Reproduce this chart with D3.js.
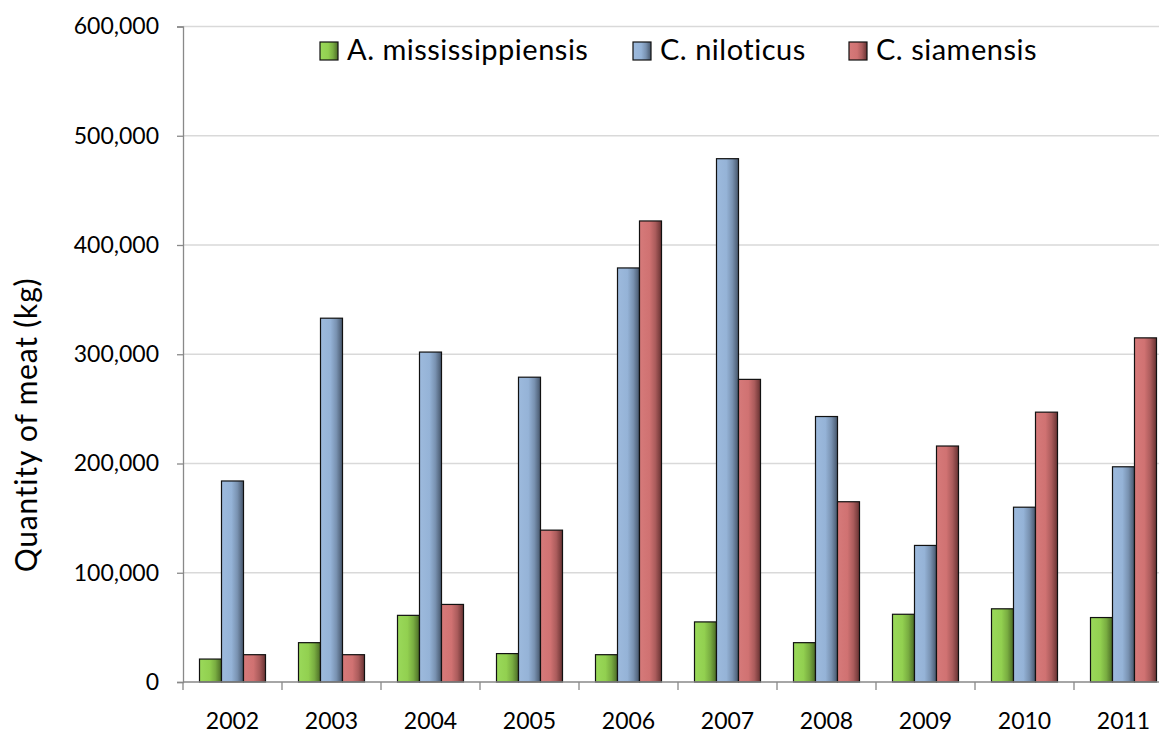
<!DOCTYPE html>
<html>
<head>
<meta charset="utf-8">
<script src="https://cdn.jsdelivr.net/npm/d3@7"></script>
<style>
  body { margin: 0; background: #fff; }
  svg { display: block; font-family: Lato, "Open Sans", sans-serif; }
</style>
</head>
<body>
<div id="chart"></div>
<script>
const years = ["2002", "2003", "2004", "2005", "2006", "2007", "2008", "2009", "2010", "2011"];
const seriesNames = ["A. mississippiensis", "C. niloticus", "C. siamensis"];
const mississippiensis = [21000, 36000, 61000, 26000, 25000, 55000, 36000, 62000, 67000, 59000];
const niloticus = [184000, 333000, 302000, 279000, 379000, 479000, 243000, 125000, 160000, 197000];
const siamensis = [25000, 25000, 71000, 139000, 422000, 277000, 165000, 216000, 247000, 315000];
const yTicks = [0, 100000, 200000, 300000, 400000, 500000, 600000];

const width = 1159, height = 734;
const plotLeft = 183, plotTop = 26.5, plotBottom = 682;
const band = 99;

// base colour + dark edge for each series
const palette = [
  { base: "#92d050", light: "#9ad95a", dark: "#4b6b26" },
  { base: "#95b3d7", light: "#9dbadd", dark: "#46566b" },
  { base: "#d07272", light: "#d67a7a", dark: "#673232" }
];
const values = [mississippiensis, niloticus, siamensis];

const svg = d3.select("#chart").append("svg")
  .attr("width", width)
  .attr("height", height);

const defs = svg.append("defs");
palette.forEach((c, i) => {
  const grad = defs.append("linearGradient")
    .attr("id", "grad" + i)
    .attr("x1", "0%").attr("x2", "100%")
    .attr("y1", "0%").attr("y2", "0%");
  grad.append("stop").attr("offset", "0%").attr("stop-color", c.light);
  grad.append("stop").attr("offset", "45%").attr("stop-color", c.base);
  grad.append("stop").attr("offset", "72%").attr("stop-color", d3.interpolateRgb(c.base, c.dark)(0.35));
  grad.append("stop").attr("offset", "100%").attr("stop-color", c.dark);
});

const x = d3.scaleBand()
  .domain(years)
  .range([plotLeft, plotLeft + band * years.length])
  .paddingInner(0)
  .paddingOuter(0);

// bars fill the middle two thirds of each category
const xInner = d3.scaleBand()
  .domain(d3.range(seriesNames.length))
  .range([band / 6, band * 5 / 6])
  .padding(0);

const y = d3.scaleLinear()
  .domain([0, 600000])
  .range([plotBottom, plotTop]);

// gridlines
svg.append("g")
  .selectAll("line")
  .data(yTicks.filter(d => d > 0))
  .join("line")
  .attr("x1", plotLeft).attr("x2", width)
  .attr("y1", d => y(d)).attr("y2", d => y(d))
  .attr("stroke", "#d9d9d9")
  .attr("stroke-width", 1.3);

// y axis
const yAxis = svg.append("g")
  .attr("transform", `translate(${plotLeft},0)`)
  .call(d3.axisLeft(y).tickValues(yTicks).tickSize(6).tickPadding(18)
    .tickFormat(d3.format(",")));
yAxis.select(".domain").attr("stroke", "#898989").attr("stroke-width", 1.3);
yAxis.selectAll(".tick line").attr("stroke", "#898989").attr("stroke-width", 1.3);
yAxis.selectAll("text")
  .attr("font-family", "Lato, 'Open Sans', sans-serif")
  .attr("font-size", 23)
  .attr("fill", "#000");

// bars
const groups = svg.append("g")
  .selectAll("g")
  .data(years)
  .join("g")
  .attr("transform", d => `translate(${x(d)},0)`);

groups.selectAll("rect")
  .data((d, i) => values.map((v, s) => ({ s, v: v[i] })))
  .join("rect")
  .attr("x", d => xInner(d.s))
  .attr("width", xInner.bandwidth())
  .attr("y", d => y(d.v))
  .attr("height", d => plotBottom - y(d.v))
  .attr("fill", d => `url(#grad${d.s})`)
  .attr("stroke", "#111")
  .attr("stroke-width", 1.2);

// x axis
const xAxis = svg.append("g")
  .attr("transform", `translate(0,${plotBottom})`)
  .call(d3.axisBottom(x).tickSize(0).tickPadding(31));
xAxis.select(".domain").remove();
xAxis.append("line")
  .attr("x1", plotLeft).attr("x2", width)
  .attr("stroke", "#898989").attr("stroke-width", 1.3);
xAxis.append("g")
  .selectAll("line")
  .data(years)
  .join("line")
  .attr("x1", d => x(d) + band).attr("x2", d => x(d) + band)
  .attr("y1", 0).attr("y2", 8)
  .attr("stroke", "#898989").attr("stroke-width", 1.3);
xAxis.append("line")
  .attr("x1", plotLeft).attr("x2", plotLeft)
  .attr("y1", 0).attr("y2", 8)
  .attr("stroke", "#898989").attr("stroke-width", 1.3);
xAxis.selectAll(".tick text")
  .attr("font-family", "Lato, 'Open Sans', sans-serif")
  .attr("font-size", 23)
  .attr("fill", "#000");

// y axis title
svg.append("text")
  .attr("transform", "translate(37,425) rotate(-90)")
  .attr("text-anchor", "middle")
  .attr("font-size", 30)
  .style("letter-spacing", "0.8px")
  .attr("fill", "#000")
  .text("Quantity of meat (kg)");

// legend
const legendX = [320, 633, 849];
const legend = svg.append("g")
  .selectAll("g")
  .data(seriesNames)
  .join("g")
  .attr("transform", (d, i) => `translate(${legendX[i]},42)`);

legend.append("rect")
  .attr("width", 18)
  .attr("height", 18)
  .attr("fill", (d, i) => `url(#grad${i})`)
  .attr("stroke", "#111")
  .attr("stroke-width", 1.2);

legend.append("text")
  .attr("x", 27)
  .attr("y", 17.5)
  .attr("font-size", 29)
  .style("letter-spacing", "0.5px")
  .attr("fill", "#000")
  .text(d => d);
</script>
</body>
</html>
